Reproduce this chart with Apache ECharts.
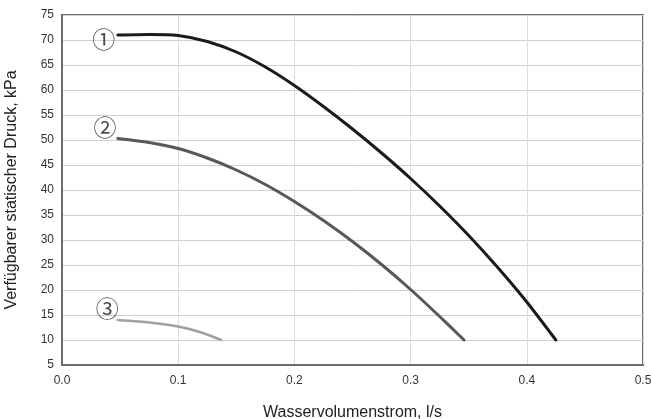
<!DOCTYPE html>
<html>
<head>
<meta charset="utf-8">
<script src="https://cdn.jsdelivr.net/npm/echarts@6/dist/echarts.min.js"></script>
<style>
  html, body { margin: 0; padding: 0; background: #fff; }
  #main { width: 651px; height: 419px; }
</style>
</head>
<body>
<div id="main"></div>
<script>
// Kurvendaten: [Wasservolumenstrom l/s, Druck kPa]
var curve1 = [[0.048, 71], [0.075, 71.1], [0.1, 70.9], [0.125, 69.7], [0.15, 67.6], [0.175, 64.6], [0.2, 60.9], [0.225, 56.7], [0.25, 52.2], [0.275, 47.4], [0.3, 42.3], [0.325, 36.8], [0.35, 30.9], [0.375, 24.5], [0.4, 17.6], [0.425, 10]];
var curve2 = [[0.048, 50.3], [0.075, 49.5], [0.1, 48.3], [0.125, 46.4], [0.15, 44.0], [0.175, 41.1], [0.2, 37.7], [0.225, 33.9], [0.25, 29.7], [0.275, 25.1], [0.3, 20.1], [0.325, 14.7], [0.346, 10]];
var curve3 = [[0.048, 14], [0.075, 13.5], [0.1, 12.7], [0.12, 11.5], [0.137, 10]];
var curveNames = ['①', '②', '③'];
var labelPos = [[0.036, 70.1], [0.037, 52.6], [0.039, 16.3]];

var myChart = echarts.init(document.getElementById('main'));

var lineColors = ['#1b1b1b', '#585858', '#a0a0a0'];
var lineWidths = [3, 3, 2.5];
var allCurves = [curve1, curve2, curve3];

var series = allCurves.map(function (c, i) {
    return {
        type: 'line',
        data: c,
        smooth: 0.2,
        showSymbol: false,
        silent: true,
        lineStyle: { color: lineColors[i], width: lineWidths[i], cap: 'round' }
    };
});

// Kurvennummern
series.push({
    type: 'scatter',
    symbolSize: 0,
    silent: true,
    data: labelPos.map(function (p, i) { return { value: p, name: curveNames[i] }; }),
    label: {
        show: true,
        position: 'inside',
        formatter: '{b}',
        fontSize: 23,
        color: '#1a1a1a',
        fontFamily: 'Noto Sans CJK SC'
    }
});

var option = {
    animation: false,
    grid: {
        left: 62, right: 8, top: 15, bottom: 54,
        outerBoundsMode: 'none',
        show: true, borderColor: '#707070', borderWidth: 2
    },
    xAxis: {
        type: 'value',
        min: 0, max: 0.5, interval: 0.1,
        name: 'Wasservolumenstrom, l/s',
        nameLocation: 'middle',
        nameGap: 40,
        nameTextStyle: { fontSize: 16, color: '#222', fontFamily: 'Liberation Sans' },
        axisLine: { show: true, lineStyle: { color: '#6a6a6a', width: 2 } },
        axisTick: { show: false },
        axisLabel: { color: '#333', fontSize: 12, margin: 10, formatter: function (v) { return v.toFixed(1); } },
        splitLine: { show: true, lineStyle: { color: '#dcdcdc', width: 1 } }
    },
    yAxis: {
        type: 'value',
        min: 5, max: 75, interval: 5,
        name: 'Verfügbarer statischer Druck, kPa',
        nameLocation: 'middle',
        nameGap: 42,
        nameTextStyle: { fontSize: 16, color: '#222', fontFamily: 'Liberation Sans' },
        axisLine: { show: true, lineStyle: { color: '#6a6a6a', width: 2 } },
        axisTick: { show: false },
        axisLabel: { color: '#333', fontSize: 12, margin: 8 },
        splitLine: { show: true, lineStyle: { color: '#cfcfcf', width: 1 } }
    },
    series: series
};

myChart.setOption(option);
</script>
</body>
</html>
